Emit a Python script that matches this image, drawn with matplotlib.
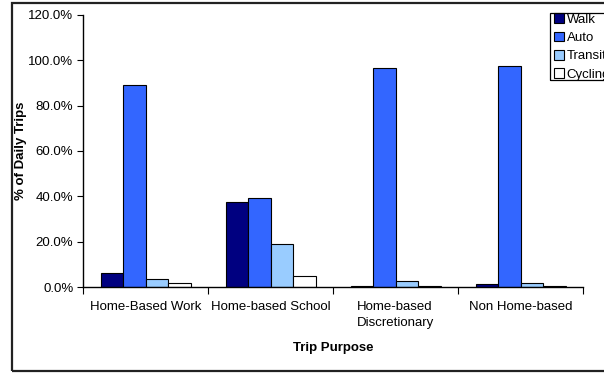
import matplotlib.pyplot as plt
from matplotlib.patches import Rectangle
from matplotlib.ticker import FuncFormatter, FixedLocator
import numpy as np

plt.rcParams['font.family'] = ['Liberation Sans', 'DejaVu Sans']

purposes = ['Home-Based Work', 'Home-based School', 'Home-based\nDiscretionary', 'Non Home-based']
modes = ['Walk', 'Auto', 'Transit', 'Cycling']
walk = [6.2, 37.4, 0.7, 1.3]
auto = [88.9, 39.4, 96.7, 97.2]
transit = [3.6, 18.9, 2.6, 2.0]
cycling = [1.9, 4.8, 0.7, 0.4]
colors = ['#000080', '#3366FF', '#99CCFF', '#FFFFFF']

fs = 9.5
fig = plt.figure(figsize=(6.04, 3.73), dpi=100)
# outer chart frame
fig.patches.append(Rectangle((12 / 604, 2 / 373), 0.99, 1 - 5 / 373, transform=fig.transFigure,
                             fill=False, edgecolor='#222222', linewidth=1.6))
ax = fig.add_axes([83 / 604, 1 - 287.3 / 373, 500 / 604, 272.6 / 373])

x = np.arange(len(purposes))
w = 0.18
for i, (name, vals) in enumerate(zip(modes, [walk, auto, transit, cycling])):
    ax.bar(x + (i - 1.5) * w, vals, w, color=colors[i], edgecolor='black', linewidth=0.8, label=name)

ax.set_xlim(-0.5, 3.5)
ax.set_ylim(0, 120)
ax.set_yticks(np.arange(0, 121, 20))
ax.yaxis.set_major_formatter(FuncFormatter(lambda v, p: f'{v:.1f}%'))
ax.xaxis.set_major_locator(FixedLocator(np.arange(-0.5, 4, 1)))
ax.xaxis.set_minor_locator(FixedLocator(x))
ax.set_xticklabels([], minor=False)
ax.set_xticklabels(purposes, minor=True, ha='center', multialignment='left', linespacing=1.45)
ax.tick_params(axis='x', which='minor', length=0, pad=10, labelsize=fs)
ax.tick_params(axis='x', which='major', length=5, direction='out')
ax.tick_params(axis='y', length=4, labelsize=fs, pad=3)
for s in ['top', 'right']:
    ax.spines[s].set_visible(False)
for s in ['left', 'bottom']:
    ax.spines[s].set_linewidth(1.0)

ax.set_ylabel('% of Daily Trips', fontsize=fs, fontweight='bold', labelpad=1)
ax.set_xlabel('Trip Purpose', fontsize=fs, fontweight='bold', labelpad=9)

# legend without its own frame, boxed separately so the top/left padding stays tight
ax.legend(loc='upper left', bbox_to_anchor=(553 / 604, 1 - 12 / 373), bbox_transform=fig.transFigure,
          fontsize=fs, frameon=False,
          handlelength=0.75, handleheight=0.75, handletextpad=0.2, labelspacing=0.45,
          borderpad=0.1, borderaxespad=0)
fig.patches.append(Rectangle((550 / 604, 1 - 80 / 373), 60 / 604, 67 / 373, transform=fig.transFigure,
                             fill=False, edgecolor='black', linewidth=0.9))

fig.savefig('out.png', dpi=100)
